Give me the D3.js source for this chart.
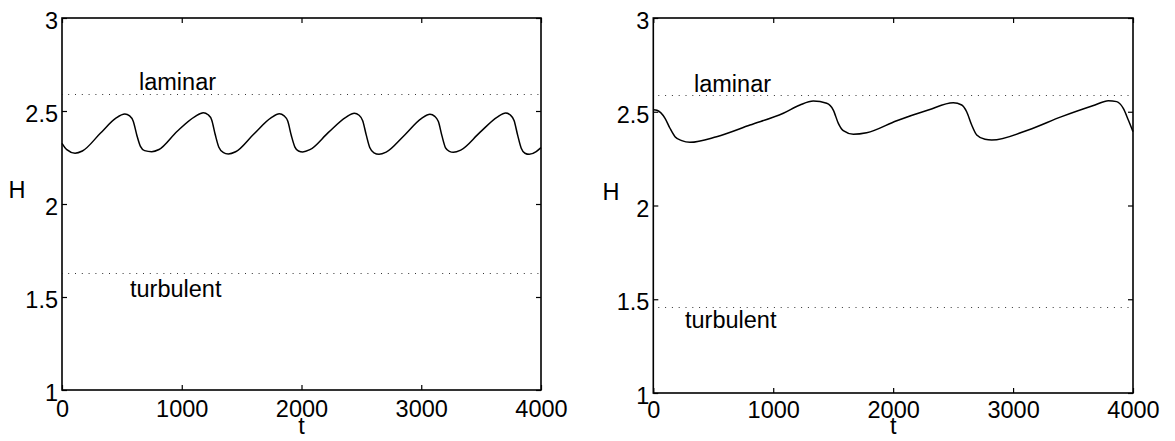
<!DOCTYPE html>
<html>
<head>
<meta charset="utf-8">
<script src="https://cdn.jsdelivr.net/npm/d3@7"></script>
<style>
  html, body { margin: 0; padding: 0; background: #fff; }
  svg { display: block; }
  text { font-family: "Liberation Sans", Arial, Helvetica, sans-serif; fill: #000; }
</style>
</head>
<body>
<svg id="chart" width="1175" height="441"></svg>
<script>
// ---- data ----
const xTicks = [0, 1000, 2000, 3000, 4000];
const yTicks = [1, 1.5, 2, 2.5, 3];
const xLabel = "t";
const yLabel = "H";
const laminarLabel = "laminar";
const turbulentLabel = "turbulent";

// left panel reference levels
const leftLaminar = 2.59;
const leftTurbulent = 1.63;
// right panel reference levels
const rightLaminar = 2.59;
const rightTurbulent = 1.46;

// left panel H(t)
const leftT = [0, 40, 109, 170, 320, 450, 525, 565, 595, 625, 655, 690, 749,
  810, 960, 1110, 1180, 1220, 1250, 1280, 1310, 1345, 1389,
  1450, 1600, 1745, 1815, 1855, 1885, 1915, 1945, 1975, 2010,
  2070, 2225, 2370, 2441, 2481, 2511, 2541, 2571, 2605, 2647,
  2707, 2860, 3003, 3073, 3113, 3143, 3173, 3203, 3235, 3268,
  3330, 3490, 3635, 3705, 3745, 3775, 3805, 3835, 3866, 3902,
  3960, 4000];
const leftH = [2.326, 2.292, 2.273, 2.285, 2.380, 2.462, 2.484, 2.474, 2.445, 2.370, 2.310, 2.287, 2.281,
  2.293, 2.390, 2.470, 2.491, 2.480, 2.452, 2.372, 2.305, 2.278, 2.269,
  2.281, 2.375, 2.463, 2.485, 2.474, 2.446, 2.368, 2.306, 2.285, 2.280,
  2.292, 2.385, 2.466, 2.488, 2.477, 2.448, 2.370, 2.302, 2.275, 2.267,
  2.279, 2.370, 2.460, 2.482, 2.471, 2.443, 2.366, 2.302, 2.283, 2.278,
  2.290, 2.385, 2.467, 2.489, 2.478, 2.449, 2.370, 2.300, 2.273, 2.267,
  2.282, 2.303];

// right panel H(t)
const rightT = [0, 30, 98, 139, 181, 237, 306, 528, 806, 1084, 1223, 1334, 1446, 1501, 1543, 1584, 1668,
  1779, 2030, 2293, 2501, 2572, 2613, 2655, 2697, 2766, 2822,
  3127, 3405, 3683, 3794, 3864, 3919, 3961, 4000];
const rightH = [2.511, 2.508, 2.465, 2.412, 2.367, 2.346, 2.337, 2.367, 2.429, 2.492, 2.536, 2.557, 2.545, 2.509, 2.438, 2.399, 2.380,
  2.388, 2.452, 2.509, 2.548, 2.536, 2.500, 2.429, 2.376, 2.353, 2.349,
  2.403, 2.474, 2.536, 2.559, 2.554, 2.518, 2.456, 2.394];

// ---- drawing ----
const svg = d3.select("#chart");
const FS = 23.5;

function panel(opts) {
  const x = d3.scaleLinear().domain([0, 4000]).range([opts.x0, opts.x1]);
  const y = d3.scaleLinear().domain([1, 3]).range([opts.y1, opts.y0]);
  const g = svg.append("g");

  // reference dotted lines
  [opts.lam, opts.turb].forEach(v => {
    g.append("line")
      .attr("x1", x(0)).attr("x2", x(4000))
      .attr("y1", Math.round(y(v)) + 0.5).attr("y2", Math.round(y(v)) + 0.5)
      .attr("stroke", "#333").attr("stroke-width", 1)
      .attr("stroke-dasharray", "1 5.8")
      .attr("stroke-dashoffset", -opts.dashOff);
  });

  // curve
  const pts = opts.t.map((t, i) => [t, opts.h[i]]);
  g.append("path")
    .datum(pts)
    .attr("fill", "none")
    .attr("stroke", "#000")
    .attr("stroke-width", 1.5)
    .attr("d", d3.line().x(d => x(d[0])).y(d => y(d[1])).curve(d3.curveMonotoneX));

  // axes (inward ticks, MATLAB-like box)
  const bottom = g.append("g").attr("transform", `translate(0,${opts.y1})`)
    .call(d3.axisBottom(x).tickValues(xTicks).tickSizeInner(-5).tickSizeOuter(0).tickFormat(d3.format("d")));
  const top = g.append("g").attr("transform", `translate(0,${opts.y0})`)
    .call(d3.axisTop(x).tickValues(xTicks).tickSizeInner(-5).tickSizeOuter(0).tickFormat(""));
  const left = g.append("g").attr("transform", `translate(${opts.x0},0)`)
    .call(d3.axisLeft(y).tickValues(yTicks).tickSizeInner(-5).tickSizeOuter(0).tickFormat(d3.format("~g")));
  const right = g.append("g").attr("transform", `translate(${opts.x1},0)`)
    .call(d3.axisRight(y).tickValues(yTicks).tickSizeInner(-5).tickSizeOuter(0).tickFormat(""));
  [bottom, top, left, right].forEach(a => {
    a.select(".domain").remove();
    a.selectAll("line").attr("stroke", "#000").attr("stroke-width", 1.2);
  });
  bottom.selectAll("text").attr("y", opts.xTickBase).attr("dy", null)
    .style("font-size", FS + "px").style("font-family", '"Liberation Sans", Arial, sans-serif');
  left.selectAll("text").attr("x", -4).attr("y", 10.7).attr("dy", null)
    .style("font-size", FS + "px").style("font-family", '"Liberation Sans", Arial, sans-serif');

  // frame
  g.append("rect")
    .attr("x", opts.x0).attr("y", opts.y0)
    .attr("width", opts.x1 - opts.x0).attr("height", opts.y1 - opts.y0)
    .attr("fill", "none").attr("stroke", "#000").attr("stroke-width", 1.6);

  // labels
  g.append("text").attr("x", (opts.x0 + opts.x1) / 2).attr("y", 434)
    .attr("text-anchor", "middle").style("font-size", FS + "px").text(xLabel);
  g.append("text").attr("x", opts.hx).attr("y", opts.hy)
    .attr("text-anchor", "middle").style("font-size", FS + "px").text(yLabel);
  g.append("text").attr("x", opts.lamX).attr("y", opts.lamY)
    .style("font-size", FS + "px").text(laminarLabel);
  g.append("text").attr("x", opts.turbX).attr("y", opts.turbY)
    .style("font-size", FS + "px").text(turbulentLabel);
}

panel({
  x0: 62, x1: 541, y0: 18, y1: 390,
  t: leftT, h: leftH, lam: leftLaminar, turb: leftTurbulent,
  xTickBase: 27, hx: 17, hy: 198,
  lamX: 139, lamY: 90, turbX: 130, turbY: 297, dashOff: 13
});
panel({
  x0: 653.3, x1: 1133, y0: 18, y1: 393,
  t: rightT, h: rightH, lam: rightLaminar, turb: rightTurbulent,
  xTickBase: 24.8, hx: 611, hy: 200,
  lamX: 694, lamY: 91.5, turbX: 685, turbY: 328, dashOff: 5
});
</script>
</body>
</html>
